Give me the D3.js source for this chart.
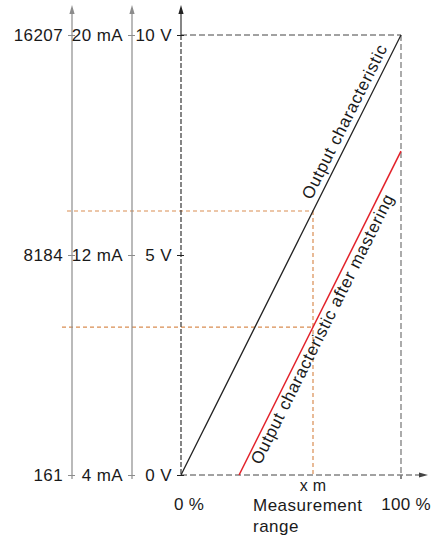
<!DOCTYPE html>
<html>
<head>
<meta charset="utf-8">
<script src="https://cdn.jsdelivr.net/npm/d3@7"></script>
<style>
  html, body { margin: 0; padding: 0; background: #fff; }
  svg { display: block; font-family: "Liberation Sans", Arial, Helvetica, sans-serif; }
  text { fill: #1a1a1a; }
</style>
</head>
<body>
<svg id="chart" width="435" height="537"></svg>
<script>
// ---- data ----
const digitTicks = [161, 8184, 16207];
const currentTicks = [4, 12, 20];
const currentLabels = ["4 mA", "12 mA", "20 mA"];
const voltageTicks = [0, 5, 10];
const voltageLabels = ["0 V", "5 V", "10 V"];
const rangeTicks = [0, 100];
const rangeLabels = ["0 %", "100 %"];
const outputCharacteristic = [{ pct: 0, v: 0 }, { pct: 100, v: 10 }];
const masteredCharacteristic = [{ pct: 26.4, v: 0 }, { pct: 100, v: 7.36 }];
const xmPct = 60;
const guideLevels = [6.0, 3.36];
const lineLabels = ["Output characteristic", "Output characteristic after mastering"];
const rangeTitle = ["Measurement", "range"];
const xmLabel = "x m";

// ---- layout ----
const svg = d3.select("#chart");
const axX = [72, 132, 181];
const yTop = 35, yBot = 475, arrowTop = 5;
const x = d3.scaleLinear().domain([0, 100]).range([181, 401]);
const yV = d3.scaleLinear().domain([0, 10]).range([yBot, yTop]);
const yD = d3.scaleLinear().domain([161, 16207]).range([yBot, yTop]);
const yI = d3.scaleLinear().domain([4, 20]).range([yBot, yTop]);

const dark = "#222", grey = "#8c8c8c", orange = "#d98d52", red = "#e3232b";

function arrowUp(g, cx, color) {
  g.append("path")
    .attr("d", `M${cx},${arrowTop} L${cx - 2.6},${arrowTop + 9} L${cx + 2.6},${arrowTop + 9} Z`)
    .attr("fill", color);
}

// orange guides (behind)
const gGuide = svg.append("g");
guideLevels.forEach((lv, i) => {
  gGuide.append("line")
    .attr("x1", axX[0] - 5 - 5 * i).attr("x2", x(xmPct))
    .attr("y1", yV(lv)).attr("y2", yV(lv))
    .attr("stroke", orange).attr("stroke-width", 1.2).attr("stroke-dasharray", "4,3");
});
gGuide.append("line")
  .attr("x1", x(xmPct)).attr("x2", x(xmPct))
  .attr("y1", yV(guideLevels[0])).attr("y2", yV(0))
  .attr("stroke", orange).attr("stroke-width", 1.2).attr("stroke-dasharray", "4,3");

// frame dashed lines
svg.append("line").attr("x1", x(0)).attr("x2", x(100)).attr("y1", yV(10)).attr("y2", yV(10))
  .attr("stroke", "#444").attr("stroke-width", 1).attr("stroke-dasharray", "6,3");
svg.append("line").attr("x1", x(100)).attr("x2", x(100)).attr("y1", yV(10)).attr("y2", yV(0) + 4)
  .attr("stroke", "#666").attr("stroke-width", 1.1).attr("stroke-dasharray", "6,3");

// x axis
svg.append("line").attr("x1", x(0)).attr("x2", 424).attr("y1", yV(0)).attr("y2", yV(0))
  .attr("stroke", "#444").attr("stroke-width", 1).attr("stroke-dasharray", "6,3");
svg.append("path").attr("d", `M428,${yV(0)} L419,${yV(0) - 2.6} L419,${yV(0) + 2.6} Z`).attr("fill", "#444");

// y axes
function yAxis(scale, ticks, fmt, cx, color, dashed) {
  const g = svg.append("g").attr("transform", `translate(${cx},0)`);
  const ax = d3.axisLeft(scale).tickValues(ticks).tickFormat(fmt).tickSizeInner(4).tickSizeOuter(0).tickPadding(5);
  g.call(ax);
  g.select(".domain").remove();
  g.selectAll(".tick line").attr("x1", -4).attr("x2", 3).attr("stroke", color).attr("stroke-width", 1);
  g.selectAll(".tick text").attr("font-size", 17).attr("fill", "#1a1a1a")
    .attr("font-family", "'Liberation Sans', Arial, sans-serif").attr("letter-spacing", 0.4);
  const base = svg.append("g");
  if (dashed) {
    base.append("line").attr("x1", cx).attr("x2", cx).attr("y1", arrowTop + 4).attr("y2", yTop)
      .attr("stroke", color).attr("stroke-width", 1.1);
    base.append("line").attr("x1", cx).attr("x2", cx).attr("y1", yTop).attr("y2", yBot)
      .attr("stroke", color).attr("stroke-width", 1.1).attr("stroke-dasharray", "5,2");
  } else {
    base.append("line").attr("x1", cx).attr("x2", cx).attr("y1", arrowTop + 4).attr("y2", yBot + 4)
      .attr("stroke", color).attr("stroke-width", 1.2);
  }
  arrowUp(base, cx, color);
}
yAxis(yD, digitTicks, d => String(d), axX[0], grey, false);
yAxis(yI, currentTicks, (d, i) => currentLabels[i], axX[1], grey, false);
yAxis(yV, voltageTicks, (d, i) => voltageLabels[i], axX[2], dark, true);

// 100% tick
svg.append("line").attr("x1", x(100)).attr("x2", x(100)).attr("y1", yV(0)).attr("y2", yV(0) + 4)
  .attr("stroke", "#666");

// characteristic lines
const line = d3.line().x(d => x(d.pct)).y(d => yV(d.v));
svg.append("path").datum(outputCharacteristic).attr("d", line)
  .attr("fill", "none").attr("stroke", dark).attr("stroke-width", 1.3);
svg.append("path").datum(masteredCharacteristic).attr("d", line)
  .attr("fill", "none").attr("stroke", red).attr("stroke-width", 1.5);

// labels along lines
function lineLabel(data, text, along, offset) {
  const x0 = x(data[0].pct), y0 = yV(data[0].v), x1 = x(data[1].pct), y1 = yV(data[1].v);
  const len = Math.hypot(x1 - x0, y1 - y0);
  const ang = Math.atan2(y1 - y0, x1 - x0);
  const px = x0 + (x1 - x0) * along / len, py = y0 + (y1 - y0) * along / len;
  svg.append("text")
    .attr("transform", `translate(${px},${py}) rotate(${ang * 180 / Math.PI})`)
    .attr("y", offset)
    .attr("font-size", 17).attr("letter-spacing", 0.7)
    .text(text);
}
lineLabel(outputCharacteristic, lineLabels[0], 304, -6);
lineLabel(masteredCharacteristic, lineLabels[1], 18, 15);

// x labels
rangeTicks.forEach((t, i) => {
  svg.append("text").attr("x", x(t) + (i === 0 ? 8 : 5)).attr("y", 510)
    .attr("text-anchor", "middle").attr("font-size", 17).attr("letter-spacing", 0.3)
    .text(rangeLabels[i]);
});
svg.append("text").attr("x", x(xmPct)).attr("y", 491).attr("text-anchor", "middle")
  .attr("font-size", 16).attr("letter-spacing", 0.3).text(xmLabel);
rangeTitle.forEach((t, i) => {
  svg.append("text").attr("x", 253).attr("y", 511 + 21 * i)
    .attr("font-size", 17).attr("letter-spacing", 0.5).text(t);
});
</script>
</body>
</html>
